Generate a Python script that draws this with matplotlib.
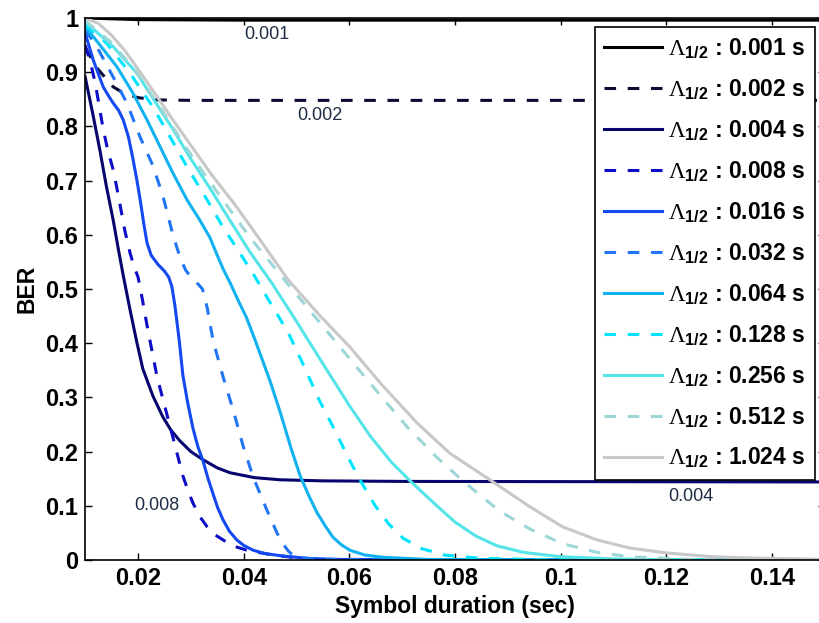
import numpy as np
import matplotlib
matplotlib.use('Agg')
import matplotlib.pyplot as plt
from matplotlib.ticker import FuncFormatter

plt.rcParams['font.family'] = 'Liberation Sans'
plt.rcParams['mathtext.fontset'] = 'custom'
plt.rcParams['mathtext.rm'] = 'Liberation Serif'
plt.rcParams['mathtext.bf'] = 'Liberation Sans:bold'

# half-life values (s) and BER curves
half_lives = ['0.001', '0.002', '0.004', '0.008', '0.016', '0.032',
              '0.064', '0.128', '0.256', '0.512', '1.024']

x_0001 = [0.010, 0.020, 0.040, 0.150]
y_0001 = [1.000, 0.997, 0.996, 0.996]

x_0002 = [0.010, 0.0122, 0.0153, 0.0175, 0.0200, 0.0236, 0.030, 0.150]
y_0002 = [0.945, 0.908, 0.873, 0.860, 0.853, 0.849, 0.848, 0.848]

x_0004 = [0.010, 0.0115, 0.0128, 0.0140, 0.0153, 0.0163, 0.0172, 0.0185,
          0.0197, 0.0209, 0.0228, 0.0247, 0.0262, 0.0279, 0.030, 0.0323,
          0.035, 0.0374, 0.042, 0.0469, 0.055, 0.070, 0.150]
y_0004 = [0.891, 0.820, 0.755, 0.690, 0.627, 0.572, 0.525, 0.461,
          0.405, 0.353, 0.303, 0.264, 0.240, 0.220, 0.200, 0.185,
          0.170, 0.161, 0.152, 0.148, 0.146, 0.145, 0.144]

x_0008 = [0.010, 0.0110, 0.0119, 0.0127, 0.0134, 0.0143, 0.0153, 0.0160,
          0.0166, 0.0175, 0.0185, 0.0193, 0.0200, 0.0208, 0.0217, 0.0236,
          0.0261, 0.0285, 0.0295, 0.0304, 0.0317, 0.0331, 0.0345, 0.0361,
          0.0380, 0.0406, 0.0456, 0.050, 0.055, 0.150]
y_0008 = [0.950, 0.918, 0.880, 0.835, 0.795, 0.755, 0.720, 0.686,
          0.655, 0.608, 0.566, 0.540, 0.522, 0.482, 0.433, 0.338,
          0.245, 0.155, 0.127, 0.105, 0.080, 0.061, 0.047, 0.037,
          0.026, 0.018, 0.009, 0.004, 0.001, 0.0]

x_0016 = [0.010, 0.0115, 0.0134, 0.0145, 0.0153, 0.0163, 0.0172, 0.0182,
          0.0190, 0.0198, 0.0204, 0.0211, 0.0217, 0.0225, 0.0238, 0.0250,
          0.0258, 0.0264, 0.0270, 0.0278, 0.0285, 0.0294, 0.0304, 0.0313,
          0.0323, 0.0332, 0.0342, 0.0351, 0.0361, 0.0373, 0.0387, 0.0400,
          0.0418, 0.0440, 0.0469, 0.052, 0.058, 0.150]
y_0016 = [0.972, 0.923, 0.873, 0.855, 0.843, 0.830, 0.812, 0.780,
          0.742, 0.700, 0.665, 0.620, 0.585, 0.562, 0.545, 0.533,
          0.522, 0.505, 0.468, 0.405, 0.340, 0.290, 0.243, 0.210,
          0.183, 0.152, 0.122, 0.096, 0.074, 0.053, 0.037, 0.027,
          0.018, 0.012, 0.008, 0.003, 0.001, 0.0]

x_0032 = [0.010, 0.0122, 0.0153, 0.0179, 0.0204, 0.0228, 0.0247, 0.0266,
          0.0279, 0.0290, 0.0300, 0.0310, 0.0322, 0.0331, 0.0342, 0.0361,
          0.0380, 0.0399, 0.0418, 0.0432, 0.0444, 0.0455, 0.0463, 0.0474,
          0.0485, 0.0493, 0.0510, 0.055, 0.150]
y_0032 = [0.978, 0.947, 0.891, 0.843, 0.780, 0.728, 0.672, 0.600,
          0.560, 0.535, 0.522, 0.513, 0.500, 0.465, 0.405, 0.338,
          0.277, 0.210, 0.153, 0.120, 0.092, 0.068, 0.050, 0.030,
          0.016, 0.009, 0.004, 0.001, 0.0]

x_0064 = [0.010, 0.0128, 0.0160, 0.0190, 0.0217, 0.0242, 0.0266, 0.0293,
          0.0317, 0.0336, 0.0350, 0.0362, 0.0375, 0.0390, 0.0405, 0.0420,
          0.0435, 0.0450, 0.0470, 0.0490, 0.0507, 0.0525, 0.0539, 0.0555,
          0.0569, 0.0585, 0.0601, 0.0630, 0.0664, 0.075, 0.150]
y_0064 = [0.984, 0.950, 0.910, 0.862, 0.812, 0.762, 0.714, 0.664,
          0.627, 0.595, 0.562, 0.535, 0.510, 0.478, 0.448, 0.410,
          0.370, 0.330, 0.270, 0.205, 0.155, 0.115, 0.087, 0.062,
          0.042, 0.028, 0.018, 0.009, 0.005, 0.001, 0.0]

x_0128 = [0.010, 0.0141, 0.0185, 0.0228, 0.0261, 0.0293, 0.0331, 0.0361,
          0.0393, 0.0418, 0.0450, 0.0484, 0.0513, 0.0543, 0.0568, 0.0600,
          0.0620, 0.0649, 0.0675, 0.0702, 0.0737, 0.0781, 0.085, 0.095,
          0.150]
y_0128 = [0.987, 0.953, 0.898, 0.836, 0.780, 0.725, 0.664, 0.614,
          0.566, 0.528, 0.475, 0.420, 0.360, 0.295, 0.248, 0.185,
          0.148, 0.100, 0.066, 0.040, 0.021, 0.009, 0.003, 0.001,
          0.0]

x_0256 = [0.010, 0.0153, 0.0198, 0.0236, 0.0266, 0.030, 0.034, 0.0375,
          0.0412, 0.0454, 0.050, 0.055, 0.060, 0.064, 0.068, 0.0715,
          0.076, 0.080, 0.084, 0.088, 0.093, 0.100, 0.110, 0.120, 0.150]
y_0256 = [0.993, 0.947, 0.898, 0.840, 0.795, 0.740, 0.680, 0.625,
          0.568, 0.510, 0.440, 0.362, 0.285, 0.228, 0.180, 0.146,
          0.105, 0.070, 0.044, 0.026, 0.014, 0.006, 0.002, 0.0005, 0.0]

x_0512 = [0.010, 0.0153, 0.0198, 0.0242, 0.028, 0.032, 0.036, 0.0412,
          0.0488, 0.054, 0.060, 0.066, 0.071, 0.0765, 0.0815, 0.0853,
          0.0885, 0.0942, 0.1004, 0.1069, 0.1131, 0.125, 0.150]
y_0512 = [0.995, 0.952, 0.898, 0.835, 0.777, 0.720, 0.665, 0.595,
          0.504, 0.443, 0.372, 0.302, 0.245, 0.190, 0.146, 0.115,
          0.090, 0.057, 0.030, 0.014, 0.006, 0.001, 0.0]

x_1024 = [0.010, 0.0125, 0.015, 0.0175, 0.0204, 0.0236, 0.0266, 0.030,
          0.034, 0.038, 0.0412, 0.0448, 0.0484, 0.0545, 0.0601, 0.066,
          0.0728, 0.079, 0.0866, 0.0942, 0.1004, 0.1069, 0.1131, 0.1201,
          0.1288, 0.1352, 0.150]
y_1024 = [1.000, 0.990, 0.968, 0.940, 0.900, 0.855, 0.812, 0.765,
          0.710, 0.660, 0.617, 0.567, 0.517, 0.450, 0.393, 0.325,
          0.253, 0.197, 0.148, 0.098, 0.061, 0.037, 0.022, 0.013,
          0.006, 0.004, 0.001]

xs = [x_0001, x_0002, x_0004, x_0008, x_0016, x_0032,
      x_0064, x_0128, x_0256, x_0512, x_1024]
ys = [y_0001, y_0002, y_0004, y_0008, y_0016, y_0032,
      y_0064, y_0128, y_0256, y_0512, y_1024]

colors = ['#000000', '#0a0a35', '#06066e', '#0d0dc8', '#1448f0', '#2275f5',
          '#12b2f0', '#00e4ff', '#55e4e8', '#9dd6d6', '#c8c8c8']
dashed = [False, True, False, True, False, True, False, True, False, True, False]

# curve labels written inside the plot
note_text = ['0.001', '0.002', '0.008', '0.004']
note_x = [0.0443, 0.0544, 0.0236, 0.1247]
note_y = [0.969, 0.821, 0.101, 0.118]

fig = plt.figure(figsize=(8.19, 6.23), dpi=100)
ax = fig.add_axes([85.2 / 819, 1 - 560 / 623, 739.6 / 819, 542 / 623])

for x, y, c, d, hl in zip(xs, ys, colors, dashed, half_lives):
    ls = (0, (3.8, 3.8)) if d else '-'
    ax.plot(x, y, color=c, lw=2.2, linestyle=ls,
            label=r'$\Lambda_{\mathbf{1/2}}$ : ' + hl + ' s')

for t, tx, ty in zip(note_text, note_x, note_y):
    ax.text(tx, ty, t, fontsize=13, color='#1e2d45', ha='center', va='center')

ax.set_xlim(0.01, 0.15)
ax.set_ylim(0, 1)
ax.set_xticks([0.02, 0.04, 0.06, 0.08, 0.1, 0.12, 0.14])
ax.set_yticks(np.arange(0, 1.01, 0.1))
fmt = FuncFormatter(lambda v, p: '%g' % round(v, 4))
ax.xaxis.set_major_formatter(fmt)
ax.yaxis.set_major_formatter(fmt)
ax.tick_params(direction='in', length=5, width=1, top=True, right=True,
               labelsize=17, pad=5)
for lab in ax.get_xticklabels() + ax.get_yticklabels():
    lab.set_fontweight('bold')
for s in ax.spines.values():
    s.set_linewidth(1.2)

ax.set_xlabel('Symbol duration (sec)', fontsize=16.5, fontweight='bold', labelpad=4)
ax.set_ylabel('BER', fontsize=16.5, fontweight='bold', labelpad=5)

leg = ax.legend(loc='upper right', bbox_to_anchor=(0.9868, 0.9834),
                borderaxespad=0, prop={'weight': 'bold', 'size': 16.5},
                handlelength=2.5, handletextpad=0.3, labelspacing=0.7,
                borderpad=0.4, fancybox=False, framealpha=1, edgecolor='black')
leg.get_frame().set_linewidth(1.2)

fig.savefig('out.png', dpi=100)
